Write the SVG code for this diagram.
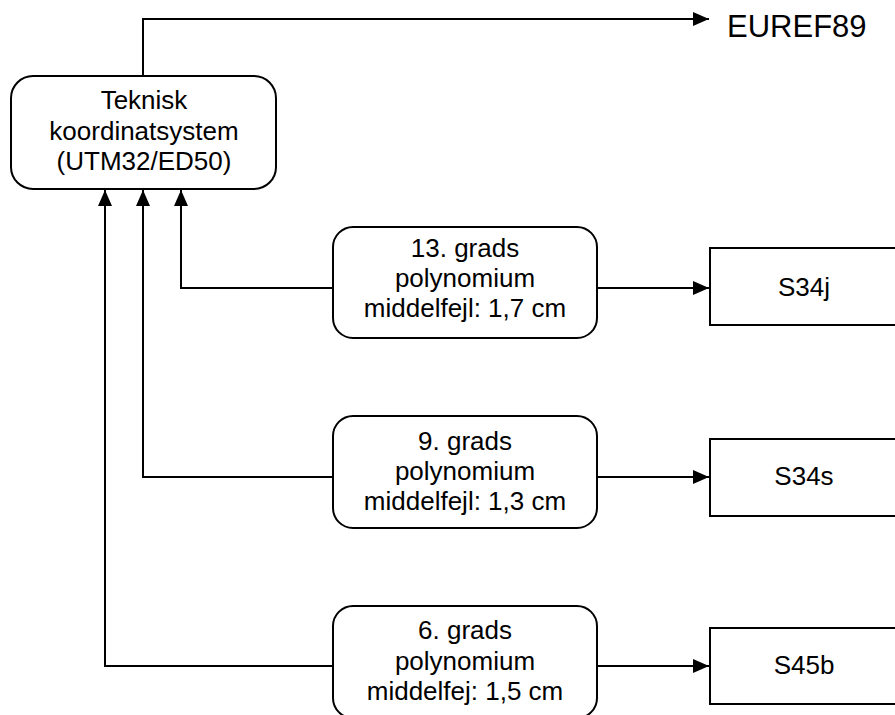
<svg xmlns="http://www.w3.org/2000/svg" width="895" height="715" viewBox="0 0 895 715">
  <style>
    .box { fill: #ffffff; stroke: #000000; stroke-width: 2; }
    .conn { fill: none; stroke: #000000; stroke-width: 2; }
    .lbl { font-family: "Liberation Sans", Arial, sans-serif; font-size: 26px; fill: #000000; text-anchor: middle; }
    .big { font-family: "Liberation Sans", Arial, sans-serif; font-size: 31px; fill: #000000; }
  </style>
  <defs>
    <marker id="arrow" markerUnits="userSpaceOnUse" markerWidth="16" markerHeight="14" refX="16" refY="7" orient="auto">
      <path d="M0,0 L16,7 L0,14 z" fill="#000000"/>
    </marker>
  </defs>
  <rect width="895" height="715" fill="#ffffff"/>

  <!-- connectors -->
  <g id="connectors">
    <path class="conn" d="M143,76 V19 H709" marker-end="url(#arrow)"/>
    <path class="conn" d="M333,288 H181 V190" marker-end="url(#arrow)"/>
    <path class="conn" d="M333,477 H143 V190" marker-end="url(#arrow)"/>
    <path class="conn" d="M333,666 H105 V190" marker-end="url(#arrow)"/>
    <path class="conn" d="M597,288 H709" marker-end="url(#arrow)"/>
    <path class="conn" d="M597,477 H709" marker-end="url(#arrow)"/>
    <path class="conn" d="M597,666 H709" marker-end="url(#arrow)"/>
  </g>

  <!-- target system label -->
  <g id="euref89">
    <text class="big" x="727" y="37">EUREF89</text>
  </g>

  <!-- source coordinate system -->
  <g id="teknisk">
    <rect class="box" x="11" y="76" width="265" height="113" rx="22" ry="22"/>
    <text class="lbl" x="144" y="109">Teknisk</text>
    <text class="lbl" x="144" y="140">koordinatsystem</text>
    <text class="lbl" x="144" y="170">(UTM32/ED50)</text>
  </g>

  <!-- transformation polynomials -->
  <g id="poly13">
    <rect class="box" x="333" y="227" width="264" height="111" rx="20" ry="20"/>
    <text class="lbl" x="465" y="257">13. grads</text>
    <text class="lbl" x="465" y="287">polynomium</text>
    <text class="lbl" x="465" y="317">middelfejl: 1,7 cm</text>
  </g>
  <g id="poly9">
    <rect class="box" x="333" y="416" width="264" height="112" rx="20" ry="20"/>
    <text class="lbl" x="465" y="450">9. grads</text>
    <text class="lbl" x="465" y="480">polynomium</text>
    <text class="lbl" x="465" y="510">middelfejl: 1,3 cm</text>
  </g>
  <g id="poly6">
    <rect class="box" x="333" y="606" width="264" height="112" rx="20" ry="20"/>
    <text class="lbl" x="465" y="639">6. grads</text>
    <text class="lbl" x="465" y="670">polynomium</text>
    <text class="lbl" x="465" y="700">middelfej: 1,5 cm</text>
  </g>

  <!-- local systems -->
  <g id="s34j">
    <rect class="box" x="710" y="248" width="200" height="77"/>
    <text class="lbl" x="804" y="296">S34j</text>
  </g>
  <g id="s34s">
    <rect class="box" x="710" y="439" width="200" height="77"/>
    <text class="lbl" x="804" y="485">S34s</text>
  </g>
  <g id="s45b">
    <rect class="box" x="710" y="628" width="200" height="76"/>
    <text class="lbl" x="804" y="674">S45b</text>
  </g>
</svg>
